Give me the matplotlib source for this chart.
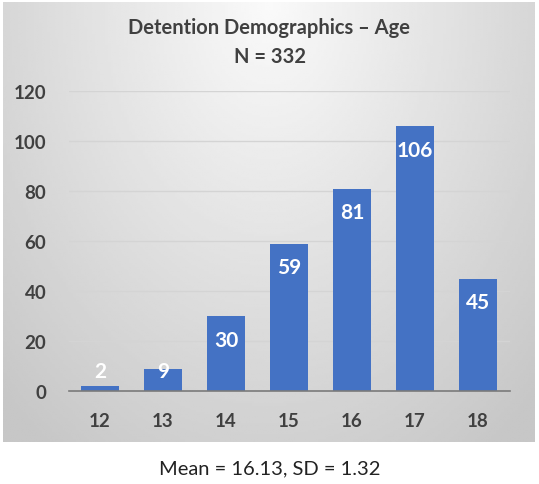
import matplotlib
matplotlib.use('Agg')
import matplotlib.pyplot as plt
import numpy as np

plt.rcParams['font.family'] = ['Lato', 'DejaVu Sans']

ages = ['12', '13', '14', '15', '16', '17', '18']
counts = [2, 9, 30, 59, 81, 106, 45]
y_ticks = [0, 20, 40, 60, 80, 100, 120]

W, H = 539, 485
fig = plt.figure(figsize=(W / 100, H / 100), dpi=100)

# gradient panel behind the chart
bg = fig.add_axes([3 / W, 1 - 443 / H, 532 / W, 440 / H])
yy, xx = np.mgrid[0:1:200j, -1:1:200j]
r = np.sqrt((xx * 0.9) ** 2 + (yy * 1.05) ** 2)
shade = 0.98 - 0.2 * np.clip(r, 0, 1.3) / 1.3
bg.imshow(shade, cmap='gray', vmin=0, vmax=1, aspect='auto',
          extent=[0, 1, 0, 1], origin='upper')
bg.set_axis_off()

ax = fig.add_axes([68.5 / W, (H - 392) / H, 441 / W, 300 / H])
ax.patch.set_alpha(0)
x = np.arange(len(ages))
ax.bar(x, counts, width=0.6, color='#4472C4', zorder=3)
ax.set_xlim(-0.5, 6.5)
ax.set_ylim(0, 120)
ax.set_yticks(y_ticks)
ax.set_xticks(x)
ax.set_xticklabels(ages)
ax.yaxis.grid(True, color='#d4d4d4', linewidth=1, zorder=0)
ax.set_axisbelow(True)
for s in ['top', 'right', 'left']:
    ax.spines[s].set_visible(False)
ax.spines['bottom'].set_color('#7a7a7a')
ax.spines['bottom'].set_linewidth(1.2)
ax.spines['bottom'].set_zorder(4)
ax.tick_params(length=0, labelsize=13.5, labelcolor='#404040')
ax.tick_params(axis='y', pad=16)
ax.tick_params(axis='x', pad=15)
for lab in ax.get_xticklabels() + ax.get_yticklabels():
    lab.set_fontweight('bold')

for xi, v in zip(x, counts):
    ax.text(xi, max(v - 9.5, 8), str(v), ha='center', va='center',
            color='white', fontsize=15, fontweight='bold', zorder=5)

fig.text(0.5, 1 - 28 / H, 'Detention Demographics \u2013 Age', ha='center',
         va='center', fontsize=14.5, fontweight='bold', color='#404040')
fig.text(0.5, 1 - 57 / H, 'N = 332', ha='center', va='center',
         fontsize=14.5, fontweight='bold', color='#404040')
fig.text(0.5, 1 - 469 / H, 'Mean = 16.13, SD = 1.32', ha='center',
         va='center', fontsize=14.5, color='#222222')

fig.savefig('out.png', dpi=100)
